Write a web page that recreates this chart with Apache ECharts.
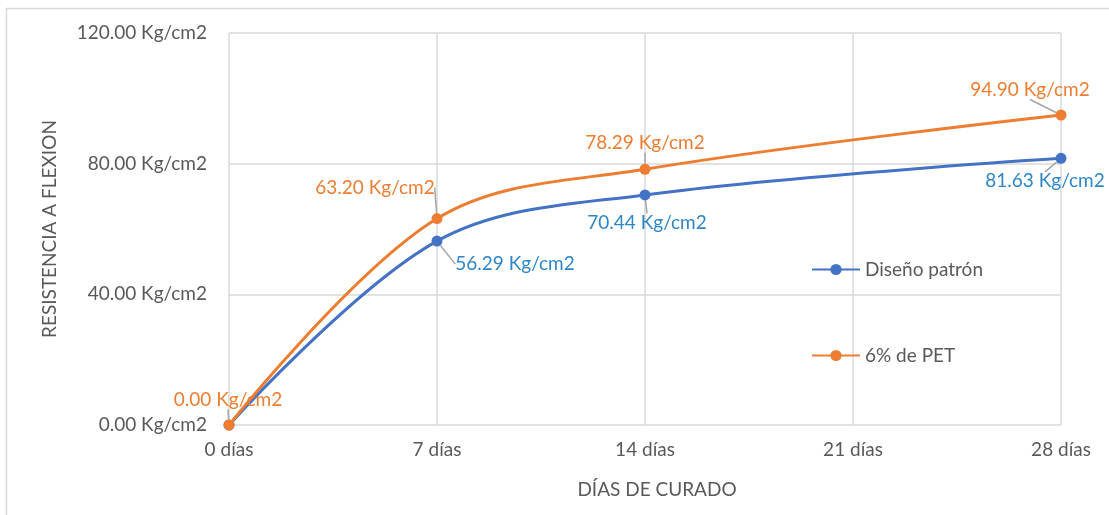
<!DOCTYPE html>
<html><head><meta charset="utf-8">
<script src="https://cdn.jsdelivr.net/npm/echarts@6/dist/echarts.min.js"></script>
<style>html,body{margin:0;padding:0;background:#fff}#c{width:1109px;height:515px}</style>
</head><body><div id="c"></div>
<script>
const days = [0, 7, 14, 28];
const xTicks = [0, 7, 14, 21, 28];
const patron = [0, 56.29, 70.44, 81.63];
const pet = [0, 63.20, 78.29, 94.90];
const seriesNames = ['Diseño patrón', '6% de PET'];
const yTitle = 'RESISTENCIA A FLEXION';
const xTitle = 'DÍAS DE CURADO';

const FONT = 'Lato, "Open Sans", sans-serif';
const FS = 19;
const blueLabelOffsets = [null, [78, 23], [2, 28], [-16, 23]];
const orangeLabelOffsets = [[-1, -25], [-62, -31], [0, -26], [-31, -25]];

function mk(vals) { return days.map((d, i) => [d, vals[i]]); }

const chart = echarts.init(document.getElementById('c'));
chart.setOption({
  animation: false,
  textStyle: { fontFamily: FONT },
  graphic: [{ type: 'rect', shape: { x: 6.5, y: 8.5, width: 1200, height: 600 }, style: { fill: 'none', stroke: '#d9d9d9', lineWidth: 1.5 }, silent: true }],
  grid: { left: 229, right: 48, top: 33, bottom: 90, containLabel: false },
  legend: {
    orient: 'vertical', left: 806, top: 255, itemGap: 67, itemWidth: 48, itemHeight: 14,
    textStyle: { color: '#595959', fontSize: FS, fontFamily: FONT },
    data: seriesNames
  },
  xAxis: {
    type: 'value', min: 0, max: 28, interval: 7,
    name: xTitle, nameLocation: 'middle', nameGap: 55,
    nameTextStyle: { color: '#595959', fontSize: FS, fontFamily: FONT, padding: [0, 0, 0, 24] },
    axisLine: { show: false }, axisTick: { show: false },
    axisLabel: { color: '#595959', fontSize: FS, margin: 15, fontFamily: FONT, formatter: v => v + ' días' },
    splitLine: { show: true, lineStyle: { color: '#d9d9d9', width: 1.5 } }
  },
  yAxis: {
    type: 'value', min: 0, max: 120, interval: 40,
    name: yTitle, nameLocation: 'middle', nameGap: 170, nameRotate: 90,
    nameTextStyle: { color: '#595959', fontSize: FS, fontFamily: FONT },
    axisLine: { show: false }, axisTick: { show: false },
    axisLabel: { color: '#595959', fontSize: FS, margin: 22, fontFamily: FONT, formatter: v => v.toFixed(2) + ' Kg/cm2' },
    splitLine: { show: true, lineStyle: { color: '#d9d9d9', width: 1.5 } }
  },
  series: [
    {
      name: seriesNames[0], type: 'line', smooth: 0.35, data: mk(patron),
      symbol: 'circle', symbolSize: 11,
      itemStyle: { color: '#4472c4' }, lineStyle: { color: '#4472c4', width: 3 },
      label: { show: true, position: 'inside', color: '#2e86c8', fontSize: FS, fontFamily: FONT,
        formatter: p => p.dataIndex === 0 ? '' : p.value[1].toFixed(2) + ' Kg/cm2' },
      labelLine: { show: true, lineStyle: { color: '#a6a6a6', width: 1.5 } },
      labelLayout: p => { const o = blueLabelOffsets[p.dataIndex]; return o ? { dx: o[0], dy: o[1] } : {}; },
      z: 2
    },
    {
      name: seriesNames[1], type: 'line', smooth: 0.35, data: mk(pet),
      symbol: 'circle', symbolSize: 11,
      itemStyle: { color: '#ed7d31' }, lineStyle: { color: '#ed7d31', width: 3 },
      label: { show: true, position: 'inside', color: '#ed7d31', fontSize: FS, fontFamily: FONT,
        formatter: p => p.value[1].toFixed(2) + ' Kg/cm2' },
      labelLine: { show: true, lineStyle: { color: '#a6a6a6', width: 1.5 } },
      labelLayout: p => { const o = orangeLabelOffsets[p.dataIndex]; return { dx: o[0], dy: o[1] }; },
      z: 3
    }
  ]
});
</script></body></html>
